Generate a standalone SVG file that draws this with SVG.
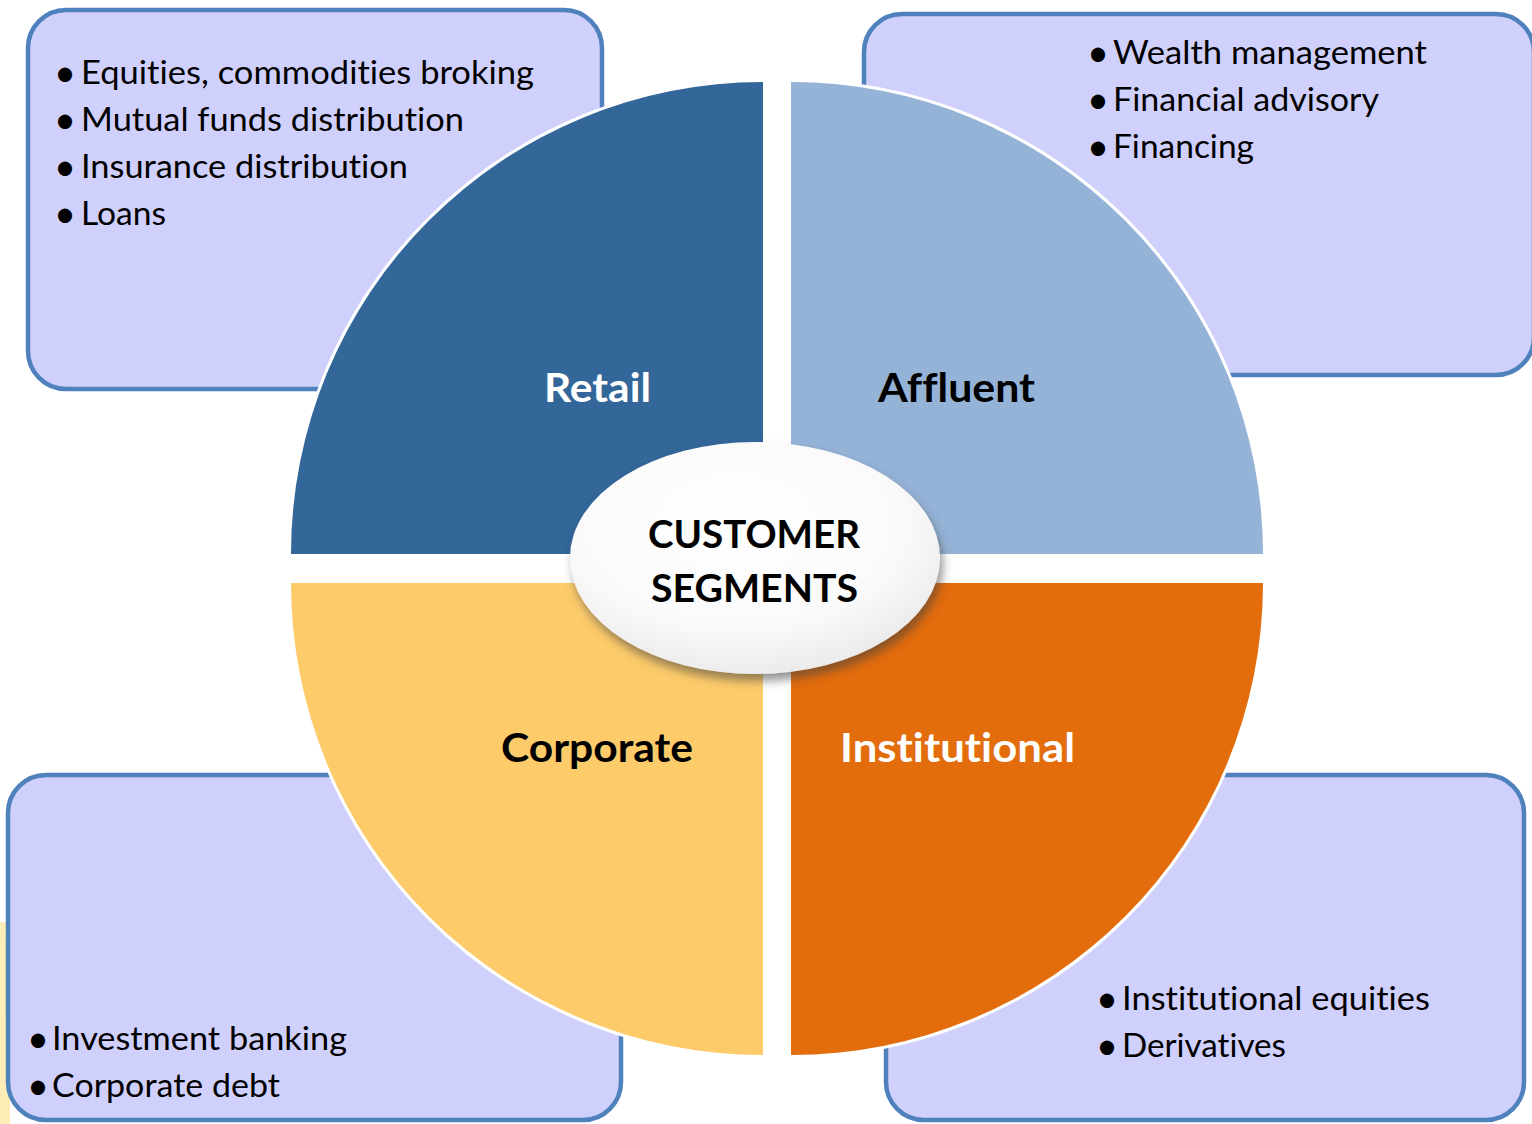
<svg xmlns="http://www.w3.org/2000/svg" width="1532" height="1124" viewBox="0 0 1532 1124">
  <style>
    text { font-variant-ligatures: none; font-feature-settings: "liga" 0; }
    .box { fill: #D0D0FC; stroke: #4F81BD; stroke-width: 4.5; }
    .quad { stroke: #FFFFFF; stroke-width: 6; paint-order: stroke fill; }
    .item { font-family: Lato, "Open Sans", sans-serif; font-size: 32px; fill: #000000; }
    .dot { font-size: 38px; }
    .label { font-family: Lato, "Open Sans", sans-serif; font-size: 40px; font-weight: 700; }
    .hub { font-family: Lato, "Open Sans", sans-serif; font-size: 39px; font-weight: 700; fill: #000000; }
  </style>
  <defs>
    <radialGradient id="hubFill" cx="0.45" cy="0.35" r="0.75">
      <stop offset="0" stop-color="#FFFFFF"/>
      <stop offset="0.6" stop-color="#FAFAFA"/>
      <stop offset="1" stop-color="#E4E4E4"/>
    </radialGradient>
    <filter id="hubShadow" x="-20%" y="-20%" width="140%" height="150%">
      <feDropShadow dx="3" dy="7" stdDeviation="5" flood-color="#404040" flood-opacity="0.55"/>
    </filter>
  </defs>

  <rect width="1532" height="1124" fill="#FFFFFF"/>
  <!-- faint decoration along the lower left edge -->
  <rect x="0" y="922" width="10" height="202" fill="#FFEDB8"/>

  <!-- detail boxes -->
  <g id="box-retail">
    <rect class="box" x="28" y="10" width="574" height="379" rx="38"/>
    <text class="item" y="84"><tspan class="dot" x="54" dy="2">•</tspan><tspan x="81" dy="-2" textLength="453" lengthAdjust="spacingAndGlyphs">Equities, commodities broking</tspan></text>
    <text class="item" y="131"><tspan class="dot" x="54" dy="2">•</tspan><tspan x="81" dy="-2" textLength="383" lengthAdjust="spacingAndGlyphs">Mutual funds distribution</tspan></text>
    <text class="item" y="178"><tspan class="dot" x="54" dy="2">•</tspan><tspan x="81" dy="-2" textLength="327" lengthAdjust="spacingAndGlyphs">Insurance distribution</tspan></text>
    <text class="item" y="225"><tspan class="dot" x="54" dy="2">•</tspan><tspan x="81" dy="-2" textLength="85" lengthAdjust="spacingAndGlyphs">Loans</tspan></text>
  </g>
  <g id="box-affluent">
    <rect class="box" x="864" y="14" width="670" height="361" rx="38"/>
    <text class="item" y="64"><tspan class="dot" x="1087" dy="2">•</tspan><tspan x="1113" dy="-2" textLength="314" lengthAdjust="spacingAndGlyphs">Wealth management</tspan></text>
    <text class="item" y="111"><tspan class="dot" x="1087" dy="2">•</tspan><tspan x="1113" dy="-2" textLength="266" lengthAdjust="spacingAndGlyphs">Financial advisory</tspan></text>
    <text class="item" y="158"><tspan class="dot" x="1087" dy="2">•</tspan><tspan x="1113" dy="-2" textLength="141" lengthAdjust="spacingAndGlyphs">Financing</tspan></text>
  </g>
  <g id="box-corporate">
    <rect class="box" x="8" y="775" width="613" height="345" rx="38"/>
    <text class="item" y="1050"><tspan class="dot" x="27" dy="2">•</tspan><tspan x="52" dy="-2" textLength="295" lengthAdjust="spacingAndGlyphs">Investment banking</tspan></text>
    <text class="item" y="1097"><tspan class="dot" x="27" dy="2">•</tspan><tspan x="52" dy="-2" textLength="228" lengthAdjust="spacingAndGlyphs">Corporate debt</tspan></text>
  </g>
  <g id="box-institutional">
    <rect class="box" x="886" y="775" width="638" height="345" rx="38"/>
    <text class="item" y="1010"><tspan class="dot" x="1096" dy="2">•</tspan><tspan x="1122" dy="-2" textLength="308" lengthAdjust="spacingAndGlyphs">Institutional equities</tspan></text>
    <text class="item" y="1057"><tspan class="dot" x="1096" dy="2">•</tspan><tspan x="1122" dy="-2" textLength="164" lengthAdjust="spacingAndGlyphs">Derivatives</tspan></text>
  </g>

  <!-- quadrants of the segment wheel -->
  <g id="quad-retail">
    <path class="quad" fill="#336699" d="M763,554 L291,554 A472,472 0 0 1 763,82 Z"/>
    <text class="label" x="544" y="402" fill="#FFFFFF" textLength="107" lengthAdjust="spacingAndGlyphs">Retail</text>
  </g>
  <g id="quad-affluent">
    <path class="quad" fill="#95B3D7" d="M791,554 L791,82 A472,472 0 0 1 1263,554 Z"/>
    <text class="label" x="878" y="402" fill="#000000" textLength="157" lengthAdjust="spacingAndGlyphs">Affluent</text>
  </g>
  <g id="quad-corporate">
    <path class="quad" fill="#FDCB6A" d="M763,583 L763,1055 A472,472 0 0 1 291,583 Z"/>
    <text class="label" x="501" y="762" fill="#000000" textLength="192" lengthAdjust="spacingAndGlyphs">Corporate</text>
  </g>
  <g id="quad-institutional">
    <path class="quad" fill="#E36C0C" d="M791,583 L1263,583 A472,472 0 0 1 791,1055 Z"/>
    <text class="label" x="840" y="762" fill="#FFFFFF" textLength="235" lengthAdjust="spacingAndGlyphs">Institutional</text>
  </g>

  <!-- central hub -->
  <g id="hub">
    <ellipse cx="755" cy="558" rx="185" ry="116" fill="url(#hubFill)" filter="url(#hubShadow)"/>
    <text class="hub" x="648" y="548" textLength="212" lengthAdjust="spacingAndGlyphs">CUSTOMER</text>
    <text class="hub" x="651" y="602" textLength="207" lengthAdjust="spacingAndGlyphs">SEGMENTS</text>
  </g>

  <g id="connectors"/>
</svg>
